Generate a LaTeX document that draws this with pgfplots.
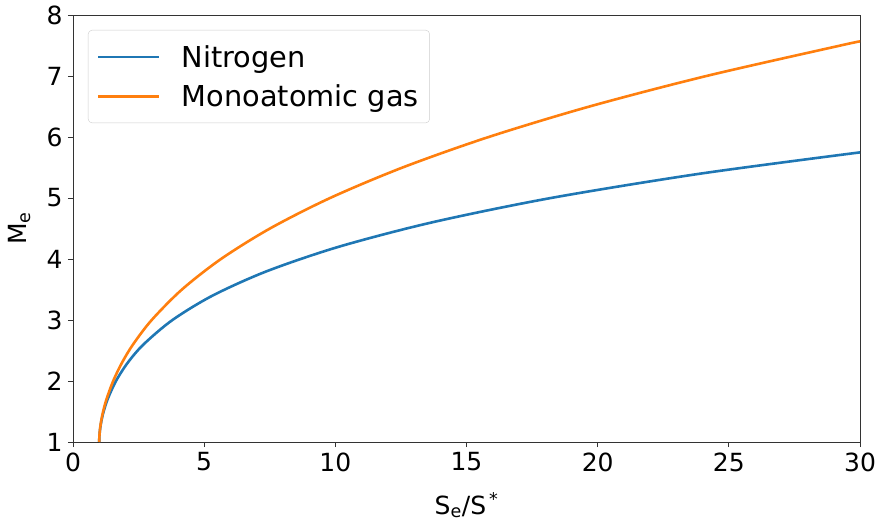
\documentclass[border=0pt]{standalone}
\usepackage{pgfplots}
\pgfplotsset{compat=1.18}
\usepackage{fontspec}
\setmainfont{DejaVu Sans}
\definecolor{tabblue}{HTML}{1F77B4}
\definecolor{taborange}{HTML}{FF7F0E}

\pgfplotstableread{
x       M
1.0000  1.00
1.0020  1.05
1.0077  1.10
1.0294  1.20
1.0638  1.30
1.1101  1.40
1.1680  1.50
1.3188  1.70
1.6384  2.00
2.0866  2.30
2.6894  2.60
3.7912  3.00
5.3204  3.40
7.3890  3.80
10.126  4.20
13.681  4.60
18.218  5.00
23.923  5.40
30.000  5.748
}\nitrogen

\pgfplotstableread{
x       M
1.0000  1.00
1.0018  1.05
1.0071  1.10
1.0268  1.20
1.0575  1.30
1.0983  1.40
1.1484  1.50
1.2755  1.70
1.5313  2.00
1.8675  2.30
2.2899  2.60
3.0000  3.00
4.1529  3.50
5.6406  4.00
7.5078  4.50
9.8000  5.00
12.563  5.50
15.844  6.00
19.688  6.50
24.143  7.00
29.255  7.50
30.000  7.567
}\mono

\begin{document}
\begin{tikzpicture}
\path (-73pt,-85pt) rectangle (807pt,442pt);
\begin{axis}[
  width=787pt, height=427pt, scale only axis,
  xmin=0, xmax=30, ymin=1, ymax=8,
  xtick={0,5,...,30}, ytick={1,...,8},
  xtick pos=bottom, ytick pos=left,
  tick align=outside, major tick length=5pt,
  every tick/.style={black!80, line width=0.8pt},
  axis line style={black!80, line width=0.8pt},
  tick label style={font=\fontsize{25}{30}\selectfont},
  /pgf/number format/assume math mode=true,
  xticklabel style={yshift=-2pt},
  yticklabel style={xshift=-2pt},
  label style={font=\fontsize{25}{30}\selectfont},
  xlabel={S\textsubscript{e}/S\textsuperscript{\,*}},
  ylabel={M\textsubscript{e}},
  xlabel style={at={(axis description cs:0.5,-0.148)}, anchor=center},
  ylabel style={at={(axis description cs:-0.068,0.5)}, anchor=center},
  legend cell align=left,
  legend style={at={(axis description cs:0.019,0.965)}, anchor=north west,
    draw=black!20, rounded corners=4pt, fill=white, fill opacity=0.8, text opacity=1,
    font=\fontsize{28.8}{34}\selectfont, inner xsep=9pt, inner ysep=13pt, row sep=12pt,
    /tikz/every odd column/.append style={column sep=19pt}},
  legend image code/.code={\draw[#1, line width=2.6pt] (0pt,0pt) -- (61pt,0pt);},
]
\addplot[tabblue, line width=2.6pt, smooth] table[x=x, y=M] {\nitrogen};
\addlegendentry{Nitrogen}
\addplot[taborange, line width=2.6pt, smooth] table[x=x, y=M] {\mono};
\addlegendentry{Monoatomic gas}
\end{axis}
\end{tikzpicture}
\end{document}
